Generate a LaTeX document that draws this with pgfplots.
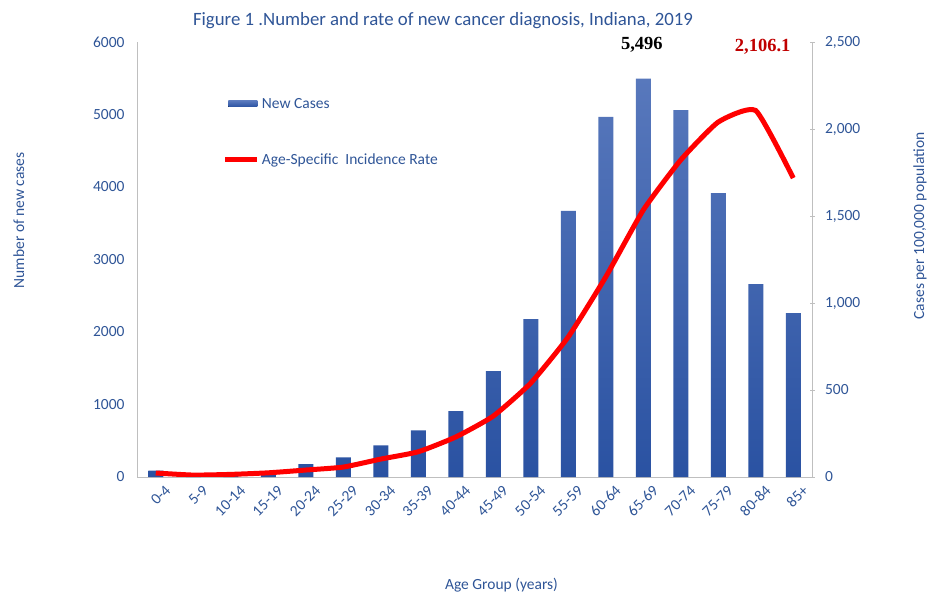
\documentclass[border=0pt]{standalone}
\usepackage{pgfplots}
\pgfplotsset{compat=1.18}
\usepackage{fontspec}
\setmainfont{Carlito}
\newfontfamily\serifb{Liberation Serif}
\definecolor{txt}{RGB}{47,85,151}
\definecolor{bartop}{RGB}{88,120,188}
\definecolor{barbot}{RGB}{42,82,162}
\definecolor{axgray}{RGB}{191,191,191}
\definecolor{darkred}{RGB}{192,0,0}

\pgfplotstableread{
x cases rate
0 87 23
1 40 11
2 55 15
3 80 24
4 179 40
5 271 57
6 437 103
7 644 145
8 910 230
9 1462 350
10 2179 540
11 3669 805
12 4966 1150
13 5496 1534
14 5062 1822
15 3917 2040
16 2662 2106.1
17 2262 1718
}\datatable

\begin{document}
\begin{tikzpicture}[x=1pt,y=1pt]
\useasboundingbox (0,0) rectangle (927,592);
\pgfplotsset{
  common/.style={
    scale only axis, width=675pt, height=435pt,
    at={(137pt,115pt)}, anchor=south west,
    xmin=-0.5, xmax=17.5,
    font=\fontsize{15.5}{18}\selectfont,
    every tick label/.append style={text=txt},
    /pgf/number format/assume math mode=true,
  }
}
\begin{axis}[common, clip=false,
  ymin=0, ymax=6000,
  axis y line*=left, axis x line*=bottom,
  axis line style={draw=axgray, thin, -},
  ytick={0,1000,...,6000},
  yticklabel style={/tikz/xshift=-9pt, /pgf/number format/.cd, set thousands separator={}},
  major tick length=0pt,
  xtick=data,
  xticklabels={0-4,5-9,10-14,15-19,20-24,25-29,30-34,35-39,40-44,45-49,50-54,55-59,60-64,65-69,70-74,75-79,80-84,85+},
  xticklabel style={rotate=45, anchor=north east, inner sep=1pt, yshift=-10pt, xshift=2pt},
  xlabel={Age Group (years)},
  xlabel style={at={(axis description cs:0.54,-0.248)}, anchor=center, text=txt},
  ylabel={Number of new cases},
  ylabel style={at={(axis description cs:-0.175,0.59)}, anchor=center, rotate=0, text=txt},
]
\addplot[ybar, bar width=15pt, draw=none, top color=bartop, bottom color=barbot] table[x=x, y=cases] {\datatable};
\node[font=\serifb\bfseries\fontsize{18.5}{20}\selectfont, text=black] at (axis description cs:0.748,0.993) {5,496};
\node[font=\serifb\bfseries\fontsize{18.5}{20}\selectfont, text=darkred] at (axis description cs:0.927,0.989) {2,106.1};
\end{axis}
\begin{axis}[common,
  ymin=0, ymax=2500,
  axis y line*=right, axis x line=none, xtick=\empty,
  axis line style={draw=axgray, thin, -},
  ytick={0,500,...,2500},
  yticklabel style={/tikz/xshift=7pt, /pgf/number format/.cd, 1000 sep={,}},
  tick style={draw=axgray, thin},
  major tick length=5pt, tick align=center,
  ylabel={Cases per 100,000 population},
  ylabel style={at={(axis description cs:1.16,0.577)}, anchor=center, text=txt},
  legend style={at={(axis description cs:0.127,0.876)}, anchor=north west, draw=none, fill=none,
    font=\fontsize{15.5}{18}\selectfont, text=txt, row sep=40pt, inner sep=0pt,
    /tikz/every even column/.append style={column sep=2pt}},
  legend cell align=left,
]
\addlegendimage{legend image code/.code={\fill[draw=none, top color=bartop, bottom color=barbot] (3pt,-3pt) rectangle (32pt,3pt);}}
\addlegendentry{New Cases}
\addplot[red, line width=5pt, smooth, tension=0.3,
  legend image code/.code={\draw[red, line width=5pt] (0pt,0pt) -- (32pt,0pt);}] table[x=x, y=rate] {\datatable};
\addlegendentry{Age-Specific~ Incidence Rate}
\end{axis}
\node[font=\fontsize{18.8}{22}\selectfont, text=txt] at (443,571) {Figure 1 .Number and rate of new cancer diagnosis, Indiana, 2019};
\end{tikzpicture}
\end{document}
